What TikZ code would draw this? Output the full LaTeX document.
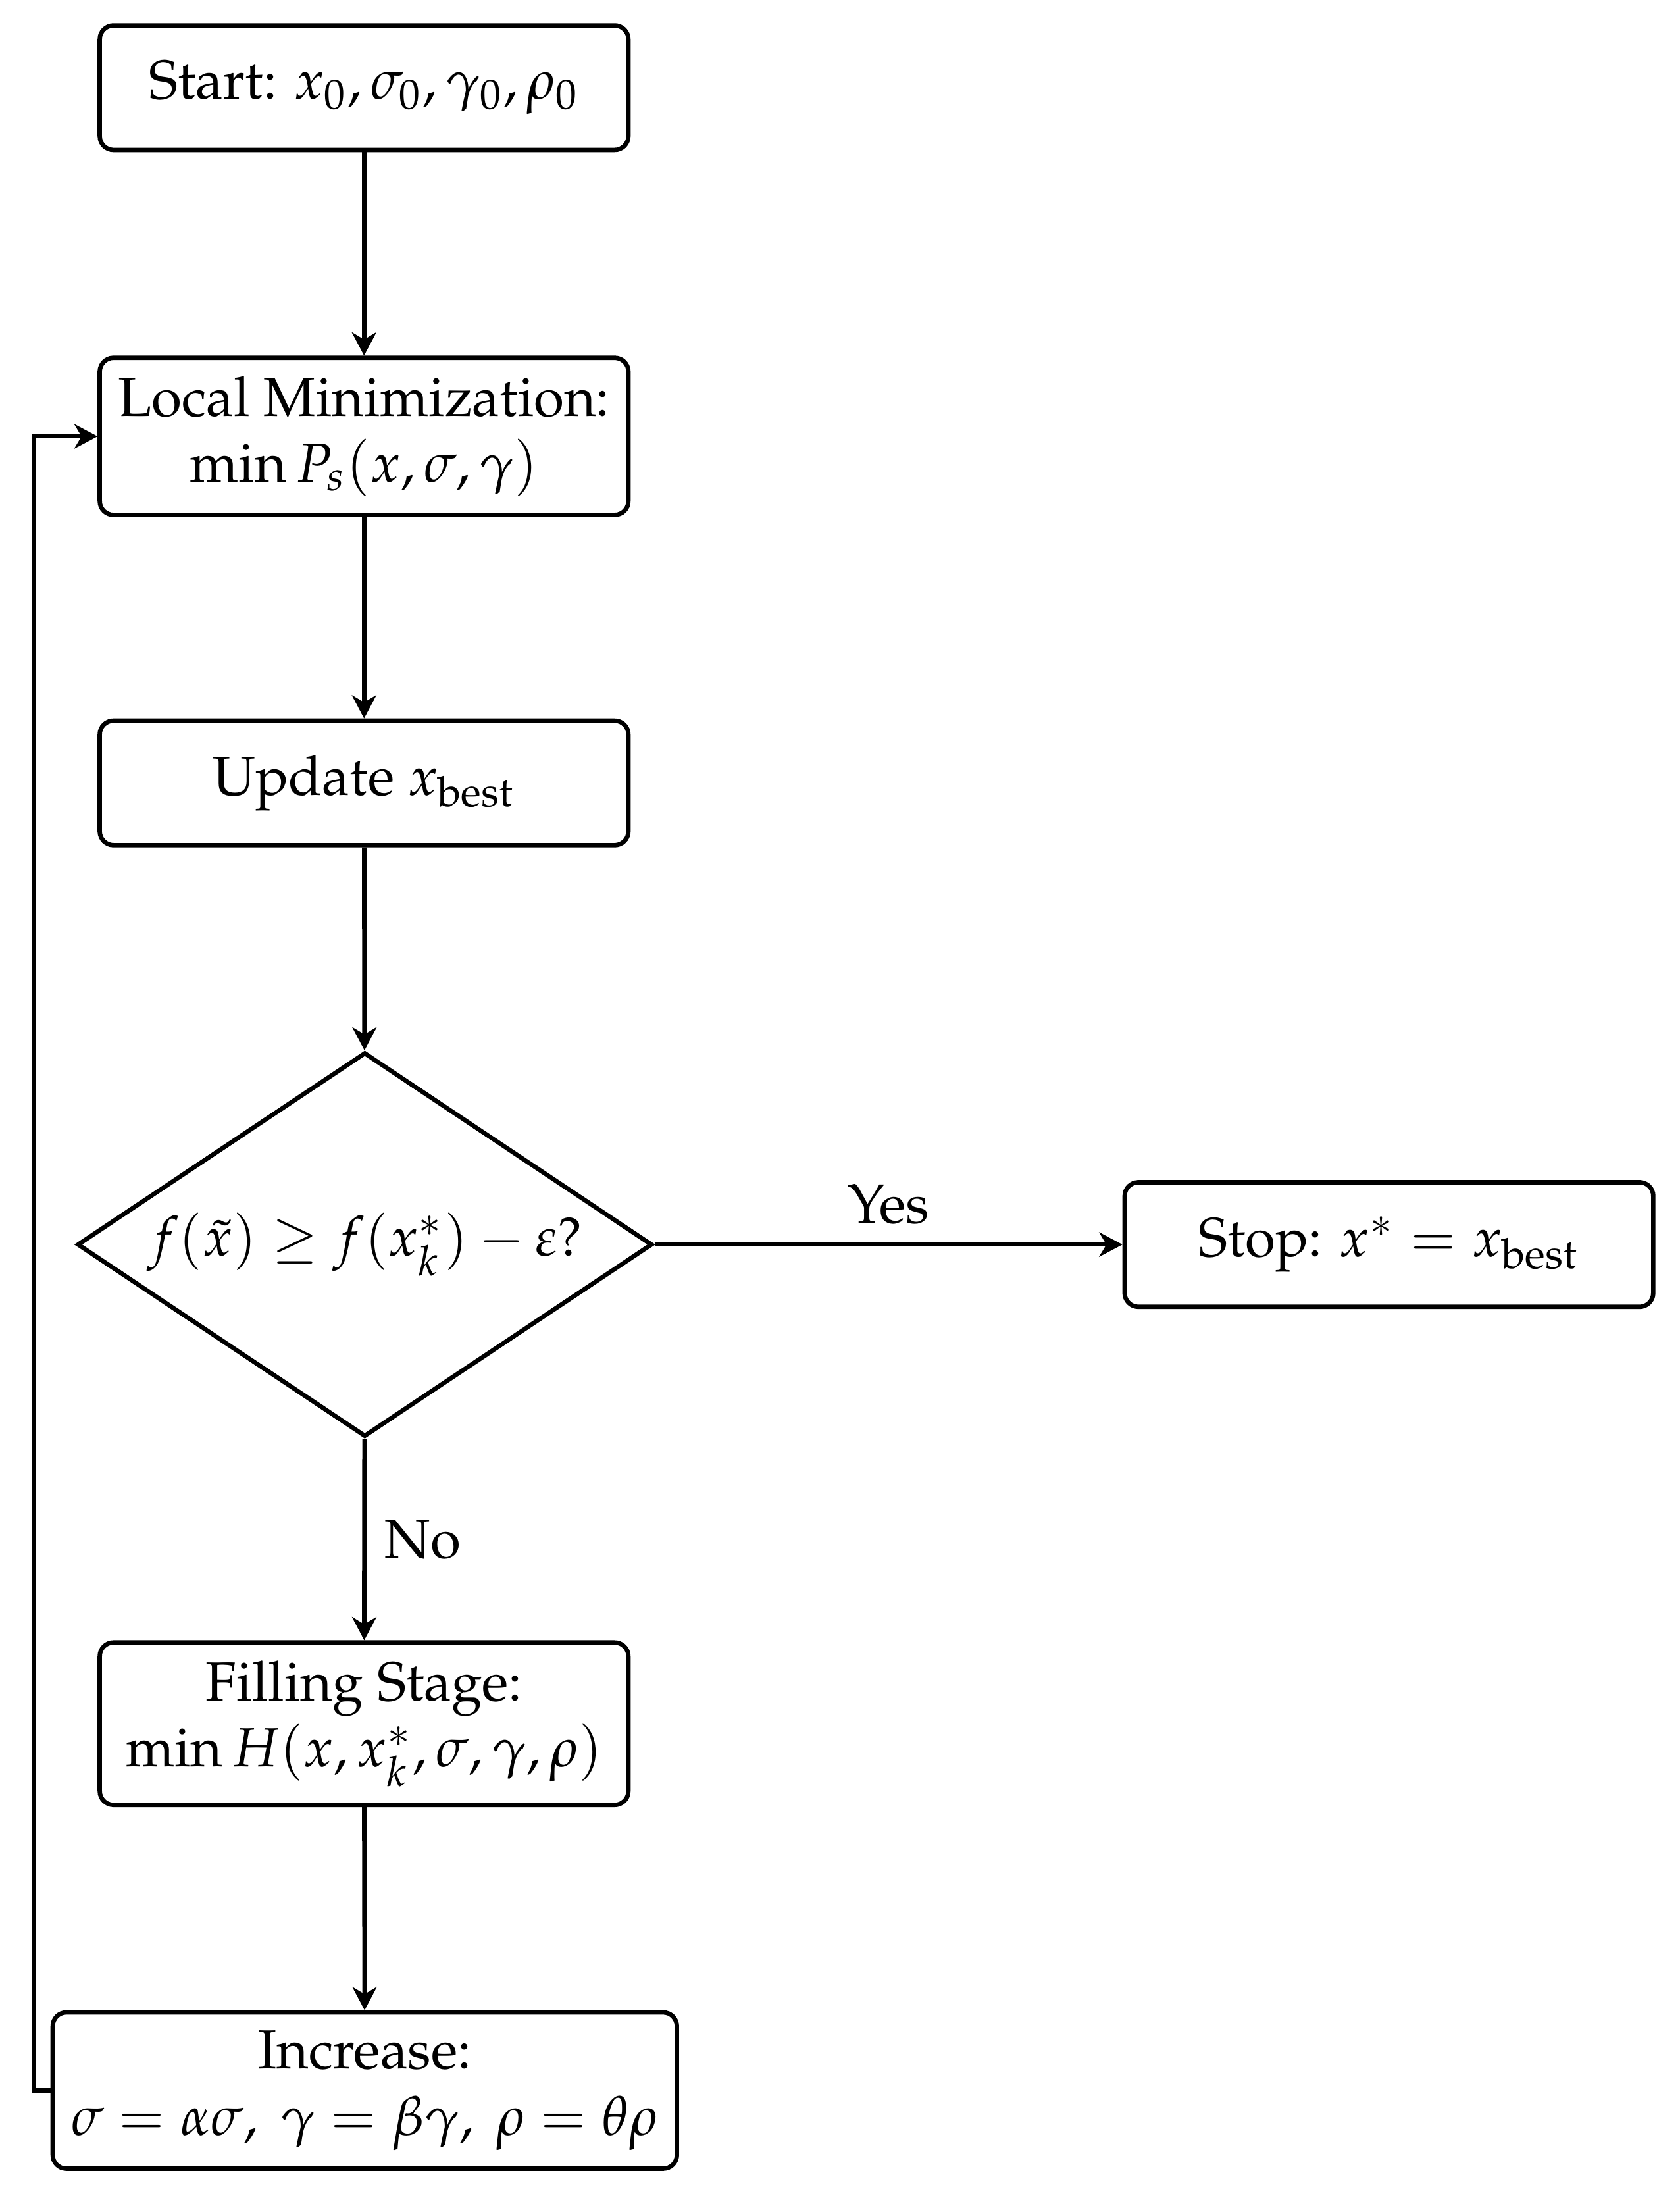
\documentclass[tikz,border=0pt]{standalone}
\usepackage[T1]{fontenc}
\usepackage{mathpazo}
\usepackage{amsmath}
\usetikzlibrary{shapes.geometric,arrows.meta}
\begin{document}
\begin{tikzpicture}[x=0.2545pt,y=-0.2545pt,
  box/.style={draw,thick,rounded corners=2.5pt,align=center,minimum width=95.9pt,minimum height=22.6pt,inner sep=3.33pt},
  decision/.style={draw,thick,shape=diamond,aspect=1.5,inner sep=0pt,minimum width=104.3pt,minimum height=69.7pt},
  arr/.style={thick,-{Stealth[length=4.2pt,width=4.4pt,inset=1.3pt]}},
  lbl/.style={inner sep=3.33pt}]
\useasboundingbox (0,0) rectangle (1197,1568);
\node[box] (start) at (259.5,62.5) {Start: $x_0, \sigma_0, \gamma_0, \rho_0$};
\node[box] (local) at (259.5,311) {Local Minimization:\\ $\min P_s(x, \sigma, \gamma)$};
\node[box] (update) at (259.5,558) {Update $x_{\text{best}}$};
\node[decision] (dec) at (260,887) {$f(\tilde{x}) \ge f(x_k^*) - \varepsilon$?};
\node[box] (stop) at (990,887) {Stop: $x^* = x_{\text{best}}$};
\node[box] (fill) at (259.5,1228.5) {Filling Stage:\\ $\min H(x, x_k^*, \sigma, \gamma, \rho)$};
\node[box] (inc) at (260,1490) {Increase:\\ $\sigma = \alpha\sigma,\ \gamma = \beta\gamma,\ \rho = \theta\rho$};
\coordinate (fbb) at (24,1490);
\coordinate (fbt) at (24,311);
\draw[arr] (start) -- (local);
\draw[arr] (local) -- (update);
\draw[arr] (update) -- (dec);
\draw[arr] (dec) -- node[lbl,midway,above] {Yes} (stop);
\draw[arr] (dec) -- node[lbl,midway,right] {No} (fill);
\draw[arr] (fill) -- (inc);
\draw[arr] (inc.west) -- (fbb) -- (fbt) -- (local.west);
\end{tikzpicture}
\end{document}
